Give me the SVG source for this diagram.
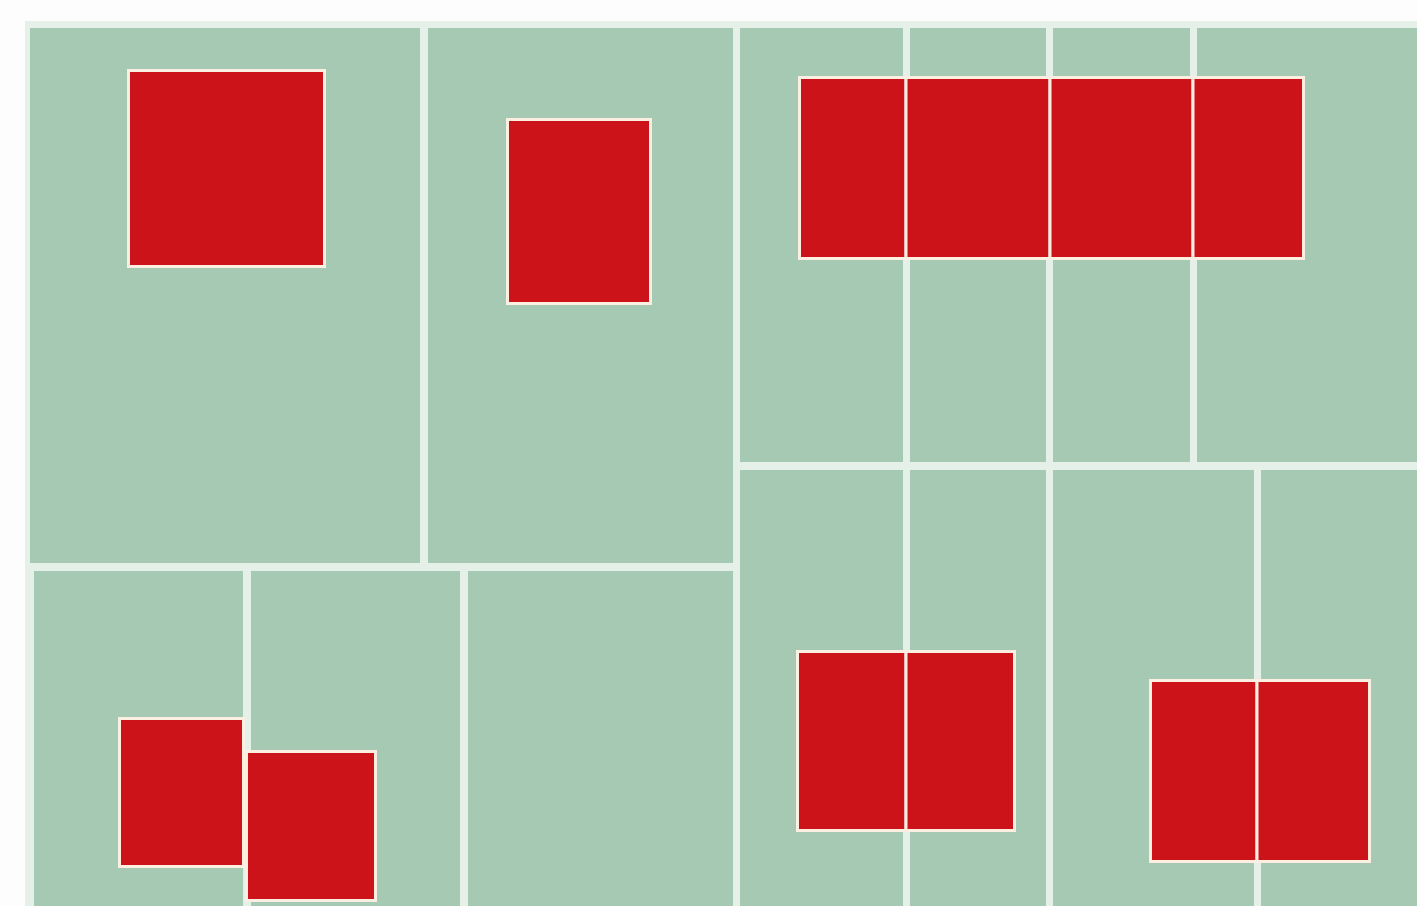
<svg xmlns="http://www.w3.org/2000/svg" width="1417" height="906" viewBox="0 0 1417 906">
  <style>
    .bg { fill: #fdfdfd; }
    .gap { fill: #e5f0e9; }
    .field { fill: #a6c9b4; }
    .red { fill: #cd131a; stroke: #fdeee2; stroke-width: 3; }
  </style>
  <rect class="bg" x="0" y="0" width="1417" height="906"/>
  <rect class="gap" x="25" y="21" width="1392" height="885"/>
  <g id="panels">
    <rect id="panel-a" class="field" x="30" y="28" width="390" height="535"/>
    <rect id="panel-b" class="field" x="428" y="28" width="305" height="535"/>
    <rect id="panel-c1" class="field" x="34" y="571" width="209" height="335"/>
    <rect id="panel-c2" class="field" x="251" y="571" width="209" height="335"/>
    <rect id="panel-c3" class="field" x="468" y="571" width="265" height="335"/>
    <rect id="panel-d1" class="field" x="740" y="28" width="163" height="434"/>
    <rect id="panel-d2" class="field" x="910" y="28" width="136" height="434"/>
    <rect id="panel-d3" class="field" x="1053" y="28" width="137" height="434"/>
    <rect id="panel-d4" class="field" x="1197" y="28" width="220" height="434"/>
    <rect id="panel-e1" class="field" x="740" y="470" width="163" height="436"/>
    <rect id="panel-e2" class="field" x="910" y="470" width="136" height="436"/>
    <rect id="panel-e3" class="field" x="1053" y="470" width="201" height="436"/>
    <rect id="panel-e4" class="field" x="1261" y="470" width="156" height="436"/>
  </g>
  <g id="block-1"><rect class="red" x="128.5" y="70.5" width="196" height="196"/></g>
  <g id="block-2"><rect class="red" x="507.5" y="119.5" width="143" height="184"/></g>
  <g id="block-3">
    <rect class="red" x="799.5" y="77.5" width="106.5" height="181"/>
    <rect class="red" x="906" y="77.5" width="144" height="181"/>
    <rect class="red" x="1050" y="77.5" width="143" height="181"/>
    <rect class="red" x="1193" y="77.5" width="110.5" height="181"/>
  </g>
  <g id="block-4">
    <rect class="red" x="119.5" y="718.5" width="124" height="148"/>
    <rect class="red" x="246.5" y="751.5" width="129" height="149"/>
  </g>
  <g id="block-5">
    <rect class="red" x="797.5" y="651.5" width="108.5" height="179"/>
    <rect class="red" x="906" y="651.5" width="108.5" height="179"/>
  </g>
  <g id="block-6">
    <rect class="red" x="1150.5" y="680.5" width="106.5" height="181"/>
    <rect class="red" x="1257" y="680.5" width="112.5" height="181"/>
  </g>
</svg>
